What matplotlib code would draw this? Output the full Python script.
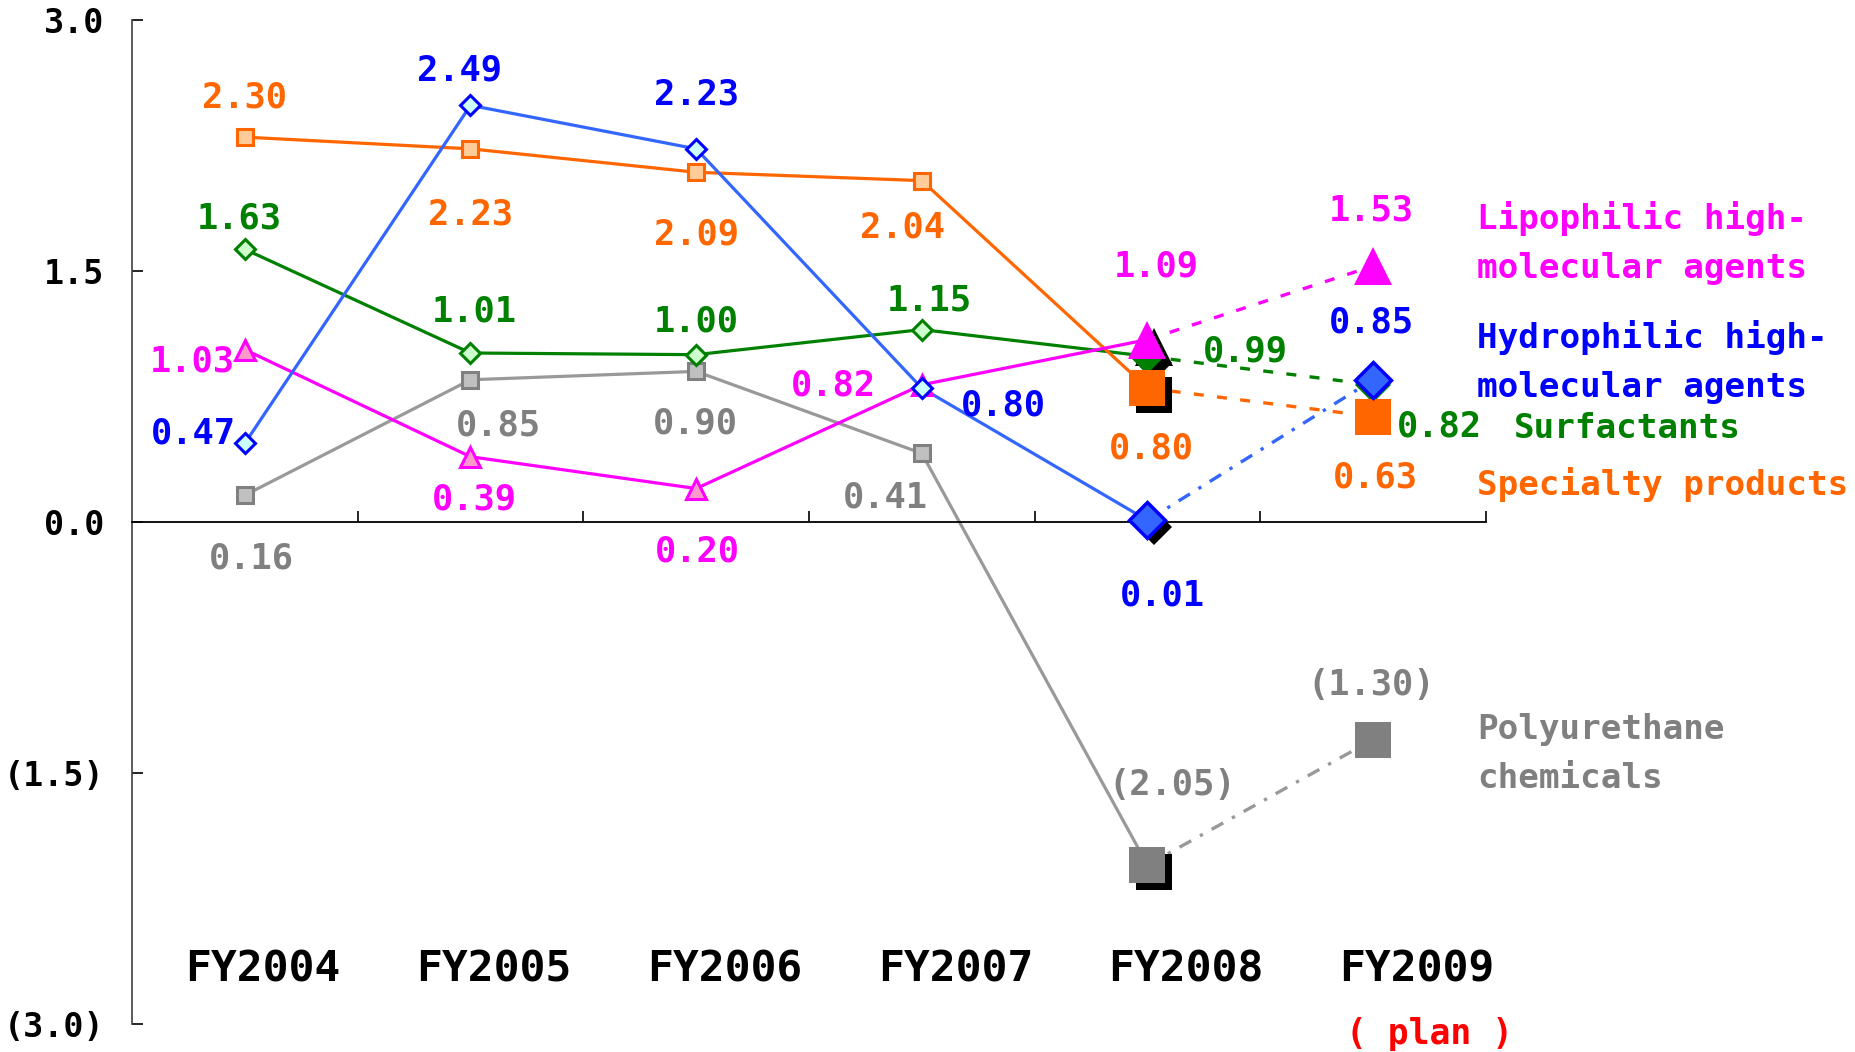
import matplotlib
matplotlib.use("Agg")
import matplotlib.pyplot as plt
from matplotlib.transforms import offset_copy

# ---------------- data ----------------
years = ["FY2004", "FY2005", "FY2006", "FY2007", "FY2008", "FY2009"]
plan_label = "( plan )"
specialty = [2.30, 2.23, 2.09, 2.04, 0.80, 0.63]
hydrophilic = [0.47, 2.49, 2.23, 0.80, 0.01, 0.85]
surfactants = [1.63, 1.01, 1.00, 1.15, 0.99, 0.82]
lipophilic = [1.03, 0.39, 0.20, 0.82, 1.09, 1.53]
polyurethane = [0.16, 0.85, 0.90, 0.41, -2.05, -1.30]
yticks = [3.0, 1.5, 0.0, -1.5, -3.0]

names = {
    "lipo": "Lipophilic high-\nmolecular agents",
    "hydro": "Hydrophilic high-\nmolecular agents",
    "surf": "Surfactants",
    "spec": "Specialty products",
    "poly": "Polyurethane\nchemicals",
}

# ---------------- styles ----------------
DPI = 100
W, H = 1856, 1052
MONO = ["DejaVu Sans Mono"]

styles = {
    "spec": dict(vals=specialty, line="#FF6600", edge="#FF6600", fill="#FFCC99",
                 big="#FF6600", bigedge="#FF6600", text="#FF6600", m="s", ms=12, bms=26,
                 dash=(0, (3, 4))),
    "hydro": dict(vals=hydrophilic, line="#3366FF", edge="#0000FF", fill="#CCFFFF",
                  big="#3366FF", bigedge="#0000FF", text="#0000FF", m="D", ms=10, bms=18,
                  dash=(0, (4, 3, 1, 3))),
    "surf": dict(vals=surfactants, line="#008000", edge="#008000", fill="#CCFFCC",
                 big="#008000", bigedge="#008000", text="#008000", m="D", ms=10, bms=18,
                 dash=(0, (3, 4))),
    "lipo": dict(vals=lipophilic, line="#FF00FF", edge="#FF00FF", fill="#FF99CC",
                 big="#FF00FF", bigedge="#FF00FF", text="#FF00FF", m="^", ms=14, bms=27,
                 dash=(0, (3, 4))),
    "poly": dict(vals=polyurethane, line="#999999", edge="#808080", fill="#C0C0C0",
                 big="#808080", bigedge="#808080", text="#808080", m="s", ms=12, bms=26,
                 dash=(0, (4, 3, 1, 3))),
}

# label offsets in pixels (dx, dy up) per point
offsets = {
    "spec": [(0, 40), (0, -66), (0, -62), (-19, -47), (4, -60), (2, -61)],
    "hydro": [(-51, 10), (-11, 35), (0, 54), (82, -17), (15, -75), (-2, 57)],
    "surf": [(-6, 31), (4, 41), (0, 33), (7, 29), (98, 5), (66, -42)],
    "lipo": [(-53, -12), (4, -43), (1, -63), (-88, -1), (9, 73), (-2, 55)],
    "poly": [(7, -63), (28, -46), (-1, -52), (-36, -44), (25, 80), (-2, 55)],
}

# legend text positions (figure px: left x, center y)
legend_pos = {
    "lipo": (1477, 243),
    "hydro": (1477, 362),
    "surf": (1514, 429),
    "spec": (1477, 484),
    "poly": (1477, 754),
}


def fmt(v):
    return f"({abs(v):.2f})" if v < 0 else f"{v:.2f}"


def fmt_tick(v):
    return f"({abs(v):.1f})" if v < 0 else f"{v:.1f}"


fig = plt.figure(figsize=(W / DPI, H / DPI), dpi=DPI)
ax = fig.add_axes([132 / W, 1 - 1024 / H, (1486 - 132) / W, (1024 - 20) / H])
ax.set_xlim(-0.5, len(years) - 0.5)
ax.set_ylim(-3.0, 3.0)

x = list(range(len(years)))
last = len(years) - 1

draw_order = ["poly", "surf", "spec", "lipo", "hydro"]
big_order = {"poly": 6, "surf": 7, "spec": 8, "lipo": 9, "hydro": 10}

shadow_tr = offset_copy(ax.transData, fig=fig, x=7, y=-7, units="dots")

for key in draw_order:
    s = styles[key]
    v = s["vals"]
    # solid part with small markers
    ax.plot(x[:last], v[:last], color=s["line"], lw=2.3, zorder=2, solid_capstyle="round")
    ax.plot(x[:last - 1], v[:last - 1], ls="none", marker=s["m"], ms=s["ms"],
            mfc=s["fill"], mec=s["edge"], mew=2.2, zorder=3)
    # dashed plan part
    ax.plot(x[last - 1:], v[last - 1:], color=s["line"], lw=2.4, ls=s["dash"], zorder=2)
    # shadow at FY2008
    ax.plot([x[last - 1]], [v[last - 1]], ls="none", marker=s["m"], ms=s["bms"],
            mfc="black", mec="black", mew=0, transform=shadow_tr, zorder=5)
    # big markers
    bew = 2.5 if key == "hydro" else 0
    ax.plot(x[last - 1:], v[last - 1:], ls="none", marker=s["m"], ms=s["bms"],
            mfc=s["big"], mec=s["bigedge"], mew=bew, zorder=big_order[key])
    # value labels
    for i, val in enumerate(v):
        dx, dy = offsets[key][i]
        ax.annotate(fmt(val), xy=(x[i], val), xytext=(dx, dy), textcoords="offset pixels",
                    ha="center", va="center", color=s["text"], fontsize=25.5,
                    family=MONO, fontweight="bold", zorder=12)
    # legend-like series name
    lx, ly = legend_pos[key]
    fig.text(lx / W, 1 - ly / H, names[key], color=s["text"], fontsize=24.7, family=MONO,
             fontweight="bold", ha="left", va="center", linespacing=1.6)

# axes styling
for sp in ["top", "right"]:
    ax.spines[sp].set_visible(False)
ax.spines["left"].set_color("#404040")
ax.spines["left"].set_linewidth(1.2)
ax.spines["bottom"].set_position(("data", 0))
ax.spines["bottom"].set_color("black")
ax.spines["bottom"].set_linewidth(1.3)

ax.set_yticks(yticks)
ax.set_yticklabels([fmt_tick(t) for t in yticks], family=MONO, fontweight="bold", fontsize=24)
ax.tick_params(axis="y", direction="in", length=8, width=1.2, pad=20, colors="black")

ax.set_xticks([i + 0.5 for i in x])
ax.set_xticklabels([])
ax.tick_params(axis="x", direction="in", length=8, width=1.2)

# category labels
for i, yr in enumerate(years):
    fx = 263 + 230.8 * i
    fig.text(fx / W, 1 - 970 / H, yr, ha="center", va="center", fontsize=31,
             family=MONO, fontweight="bold", color="black")
fig.text(1430 / W, 1 - 1034 / H, plan_label, ha="center", va="center", fontsize=25,
         family=MONO, fontweight="bold", color="#FF0000")

fig.savefig("out.png", dpi=DPI)
